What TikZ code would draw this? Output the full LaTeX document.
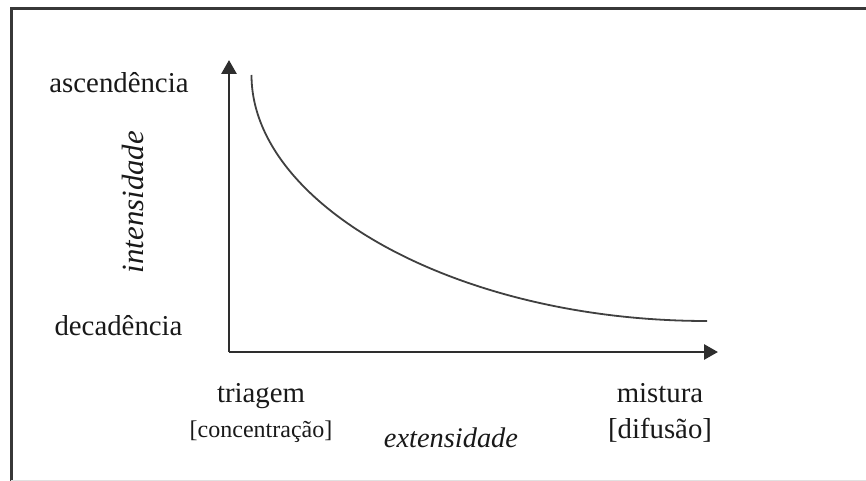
\documentclass[tikz,border=0pt]{standalone}
\usepackage{fontspec}
\setmainfont{Liberation Serif}
\usetikzlibrary{arrows.meta}
\begin{document}
\begin{tikzpicture}[x=0.5pt,y=-0.5pt,
  lbl/.style={font=\fontsize{14.4}{16}\selectfont, inner sep=0pt, anchor=base, text=black!90},
  smalllbl/.style={font=\fontsize{12}{14}\selectfont, inner sep=0pt, anchor=base, text=black!90},
  ilbl/.style={font=\fontsize{14.2}{16}\selectfont\itshape, inner sep=0pt, anchor=base, text=black!90},
  axisline/.style={line width=1.4pt, draw=black!82, -{Triangle[length=7pt,width=7.5pt]}},
  curveline/.style={line width=0.9pt, draw=black!75},
  frameline/.style={line width=1.5pt, draw=black!78}]
\useasboundingbox (0,0) rectangle (866,481);
\fill[white] (0,0) rectangle (866,481);
% frame
\draw[frameline] (11,481) -- (11,9) -- (866,9);
\draw[black!12, line width=0.5pt] (11,480) -- (866,480);
% axes
\coordinate (O) at (229,352);
\coordinate (ytip) at (229,60);
\coordinate (xtip) at (718,352);
\draw[axisline] (O) -- (ytip);
\draw[axisline] (O) -- (xtip);
% curve
\coordinate (cs) at (251.5,75);
\coordinate (ce) at (707,321);
\draw[curveline] (cs) .. controls (251.5,205) and (457,321) .. (ce);
% labels
\node[lbl] (asc) at (119,93) {ascendência};
\node[lbl] (dec) at (118.5,335) {decadência};
\node[lbl] (tri) at (261,402) {triagem};
\node[smalllbl] (con) at (261,437) {[concentração]};
\node[lbl] (mis) at (660,402) {mistura};
\node[lbl] (dif) at (660,438) {[difusão]};
\node[ilbl] (ext) at (451,447) {extensidade};
\node[ilbl, font=\fontsize{15.4}{16}\selectfont\itshape, rotate=90] (int) at (143,202) {intensidade};
\end{tikzpicture}
\end{document}
